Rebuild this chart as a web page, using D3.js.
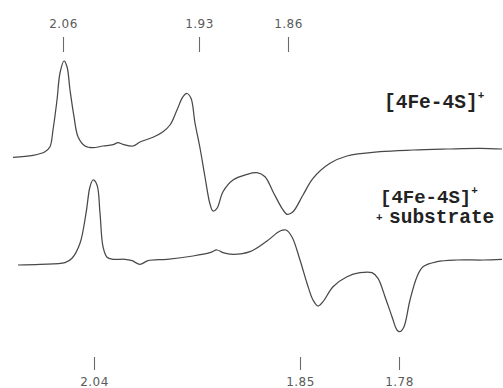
<!DOCTYPE html>
<html>
<head>
<meta charset="utf-8">
<script src="https://cdn.jsdelivr.net/npm/d3@7"></script>
<style>
  html, body { margin: 0; padding: 0; background: #fff; }
  svg { display: block; }
</style>
</head>
<body>
<svg id="chart" width="503" height="388"></svg>
<script>
// ---- Data (magnetic field in mT, signal in arbitrary units) ----
const topField = [312.6,316.6,319,320,320.6,321.4,322,322.8,323.4,324,324.8,325.6,327,328.6,330.6,332.6,333.6,334.6,336.6,338,340.6,342.6,344,345.4,346.6,347.4,348.2,349,350,351,352,352.6,353.4,354.6,356.6,359.4,361.4,363,364.6,366.4,367.4,368.6,370.6,372.6,376,379.4,386,392.6,399.4,406,410.4];
const topSignal = [-7.3,-5.3,-1.7,3.3,20,50,77,89,83.3,60,33.3,13.3,4,2.3,4,5.3,7.3,5.7,4,8,12.7,18.3,25,40,53.3,56.5,51.7,27,2,-27,-54,-61,-58.3,-41.7,-30,-24.3,-22.7,-26.7,-41.7,-58.3,-64.3,-61.7,-45,-28.3,-13.3,-6,-1.7,0,1,1.7,1];

const bottomField = [313.6,318,323,324.4,326,327.2,328,328.6,329.4,330,330.6,331.4,332.6,335,336.4,338,339.6,343.4,348.6,352,353.4,354.6,356.6,360,363.4,366,367.2,368.4,370,371.4,372.6,373.6,374.6,376.6,379.4,382,384.4,385.6,387,388.4,389.4,390,390.8,392,393.4,394.6,397.4,401.4,406.6,410.4];
const bottomSignal = [-5,-4.3,-2.7,1.7,16.7,46.7,73.3,80,75,46.7,13.3,2.7,0.7,0.7,-0.7,-4.3,-0.7,0.7,4,7.3,10,7.3,5.7,8.3,19,29,30,23,0,-23.3,-40,-46,-41.7,-26.7,-16.7,-12.7,-12.7,-18.3,-36.7,-56.7,-70,-71.7,-66.7,-40,-16.7,-6.7,-1.7,0,0,0.7];

const seriesOffsets = [0, -110];   // vertical stacking offsets of the two spectra

// g-value markers (label, field position in mT)
const topTickLabels = ["2.06", "1.93", "1.86"];
const topTickFields = [322.6, 349.8, 367.6];
const bottomTickLabels = ["2.04", "1.85", "1.78"];
const bottomTickFields = [328.8, 370, 389.8];

const seriesNames = [["[4Fe-4S]", "+"], ["[4Fe-4S]", "+", "substrate"]];

// ---- Scales ----
const W = 503, H = 388;
const x = d3.scaleLinear().domain([310, 410.6]).range([0, W]);
const y = d3.scaleLinear().domain([150, -238]).range([0, H]);

const svg = d3.select("#chart");

const line = d3.line()
  .x(d => x(d[0]))
  .y(d => y(d[1]))
  .curve(d3.curveCatmullRom.alpha(0.5));

const series = [
  { f: topField, s: topSignal, off: seriesOffsets[0] },
  { f: bottomField, s: bottomSignal, off: seriesOffsets[1] }
];

series.forEach(sr => {
  const pts = sr.f.map((v, i) => [v, sr.s[i] + sr.off]);
  svg.append("path")
    .attr("d", line(pts))
    .attr("fill", "none")
    .attr("stroke", "#484848")
    .attr("stroke-width", 1.25)
    .attr("stroke-linejoin", "round");
});

// ---- g-value tick marks (drawn with d3 axes) ----
const topAxis = d3.axisTop(x)
  .tickValues(topTickFields)
  .tickSize(15)
  .tickPadding(9)
  .tickFormat((d, i) => topTickLabels[i]);

const gTop = svg.append("g").attr("transform", "translate(0,52)").call(topAxis);

const bottomAxis = d3.axisBottom(x)
  .tickValues(bottomTickFields)
  .tickSize(13)
  .tickPadding(7)
  .tickFormat((d, i) => bottomTickLabels[i]);

const gBot = svg.append("g").attr("transform", "translate(0,357)").call(bottomAxis);

[gTop, gBot].forEach(g => {
  g.select(".domain").remove();
  g.selectAll(".tick line").attr("stroke", "#6a6a6a").attr("stroke-width", 1.1);
  g.selectAll(".tick text")
    .attr("fill", "#5a5a5a")
    .style("font-family", "'DejaVu Sans', sans-serif")
    .style("font-size", "12px")
    .style("letter-spacing", "0.5px");
});

// ---- Series labels ----
const labelFont = "'Liberation Mono', 'DejaVu Sans Mono', monospace";

const t1 = svg.append("text")
  .attr("x", 384).attr("y", 108)
  .attr("fill", "#222")
  .style("font-family", labelFont)
  .style("font-weight", "bold")
  .style("font-size", "19.5px");
t1.append("tspan").text(seriesNames[0][0]);
t1.append("tspan").attr("dy", -9).style("font-size", "11px").text(seriesNames[0][1]);

const t2 = svg.append("text")
  .attr("x", 380).attr("y", 203)
  .attr("fill", "#222")
  .style("font-family", labelFont)
  .style("font-weight", "bold")
  .style("font-size", "19px");
t2.append("tspan").text(seriesNames[1][0]);
t2.append("tspan").attr("dy", -9).style("font-size", "11px").text(seriesNames[1][1]);

const t3 = svg.append("text")
  .attr("x", 376).attr("y", 223)
  .attr("fill", "#222")
  .style("font-family", labelFont)
  .style("font-weight", "bold")
  .style("font-size", "19.5px");
t3.append("tspan").style("font-size", "11px").attr("dy", -2).text(seriesNames[1][1]);
t3.append("tspan").attr("x", 389).attr("dy", 2).text(seriesNames[1][2]);
</script>
</body>
</html>
